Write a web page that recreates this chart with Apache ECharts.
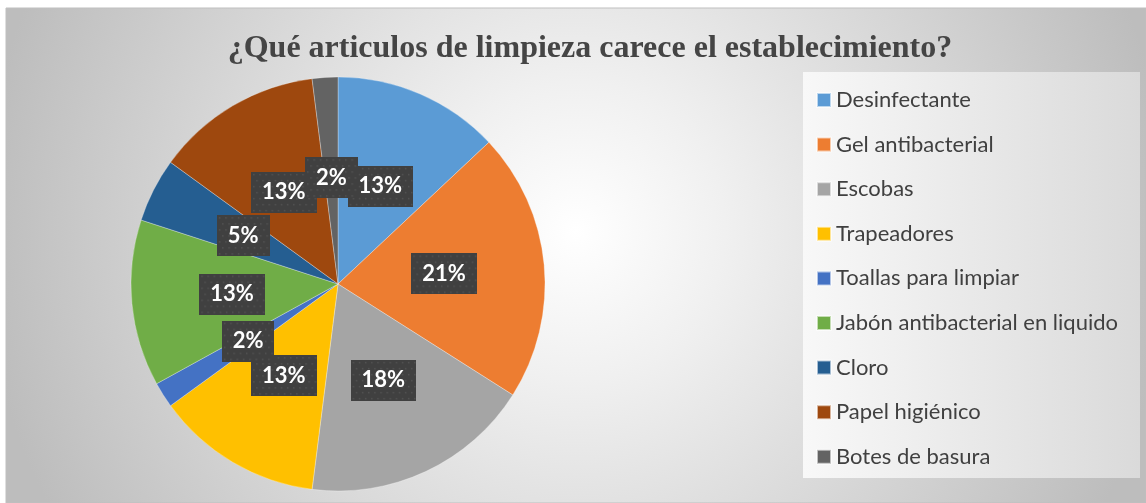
<!DOCTYPE html>
<html>
<head>
<meta charset="utf-8">
<script src="https://cdn.jsdelivr.net/npm/echarts@6/dist/echarts.min.js"></script>
<style>
  html, body { margin: 0; padding: 0; background: #fff; }
  #chart { width: 1146px; height: 503px; }
</style>
</head>
<body>
<div id="chart"></div>
<script>
// datos del grafico
const titulo = "¿Qué articulos de limpieza carece el establecimiento?";
const categorias = [
  "Desinfectante",
  "Gel antibacterial",
  "Escobas",
  "Trapeadores",
  "Toallas para limpiar",
  "Jabón antibacterial en liquido",
  "Cloro",
  "Papel higiénico",
  "Botes de basura"
];
const porcentajes = [13, 21, 18, 13, 2, 13, 5, 13, 2];
const colores = ["#5B9BD5", "#ED7D31", "#A5A5A5", "#FFC000", "#4472C4", "#70AD47", "#255E91", "#9E480E", "#636363"];

// fondo punteado de las etiquetas
function fondoPunteado(w, h) {
  var c = document.createElement("canvas");
  c.width = w;
  c.height = h;
  var ctx = c.getContext("2d");
  ctx.fillStyle = "#404040";
  ctx.fillRect(0, 0, w, h);
  ctx.fillStyle = "#535353";
  for (var y = 2; y < h; y += 6) {
    for (var x = (y % 12 === 2 ? 2 : 5); x < w; x += 6) {
      ctx.fillRect(x, y, 1.5, 1.5);
    }
  }
  return c;
}
var fondoAncho = fondoPunteado(64, 41);
var fondoCorto = fondoPunteado(50, 41);

var myChart = echarts.init(document.getElementById("chart"));

var option = {
  backgroundColor: "#ffffff",
  animation: false,
  color: colores,
  graphic: [
    {
      // fondo del area del grafico
      type: "rect",
      z: -10,
      shape: { x: 6, y: 8, width: 1140, height: 495 },
      style: {
        fill: new echarts.graphic.RadialGradient(0.5, 0.45, 1.2, [
          { offset: 0, color: "#ffffff" },
          { offset: 0.25, color: "#f0f0f0" },
          { offset: 1, color: "#bdbdbd" }
        ]),
        stroke: "#bfbfbf",
        lineWidth: 1
      }
    },
    {
      // panel de la leyenda
      type: "rect",
      z: -9,
      shape: { x: 803, y: 72, width: 337, height: 406 },
      style: {
        fill: new echarts.graphic.LinearGradient(0, 0, 1, 0, [
          { offset: 0, color: "#f8f8f8" },
          { offset: 1, color: "#dadada" }
        ])
      }
    }
  ],
  title: {
    text: titulo,
    left: 585,
    textAlign: "center",
    top: 28,
    textStyle: {
      fontFamily: "Liberation Serif",
      fontWeight: "bold",
      fontSize: 32,
      color: "#454545"
    }
  },
  legend: {
    orient: "vertical",
    left: 816,
    top: 89,
    padding: 0,
    itemWidth: 14,
    itemHeight: 14,
    itemGap: 22.6,
    icon: "rect",
    data: categorias,
    textStyle: {
      fontFamily: "Lato",
      fontSize: 22,
      color: "#404040",
      lineHeight: 22
    }
  },
  series: [
    {
      type: "pie",
      center: [338, 284],
      radius: [0, 207],
      startAngle: 90,
      clockwise: true,
      avoidLabelOverlap: false,
      minShowLabelAngle: 0,
      labelLayout: { hideOverlap: false },
      itemStyle: {
        borderColor: "rgba(255,255,255,0.6)",
        borderWidth: 0.5
      },
      label: {
        show: true,
        position: "inside",
        overflow: "none",
        formatter: function (p) {
          return Math.round(p.percent) + "%";
        },
        fontFamily: "Lato",
        fontWeight: "bold",
        fontSize: 22,
        lineHeight: 23,
        color: "#ffffff",
        backgroundColor: { image: fondoAncho },
        padding: [9, 11, 9, 11],
        shadowColor: "rgba(0,0,0,0.55)",
        shadowBlur: 7,
        shadowOffsetX: 3,
        shadowOffsetY: 4
      },
      labelLine: { show: false },
      emphasis: { disabled: true },
      data: categorias.map(function (c, i) {
        var d = { name: c, value: porcentajes[i] };
        if (porcentajes[i] < 10) {
          d.label = { backgroundColor: { image: fondoCorto } };
        }
        return d;
      })
    }
  ]
};

myChart.setOption(option);
</script>
</body>
</html>
